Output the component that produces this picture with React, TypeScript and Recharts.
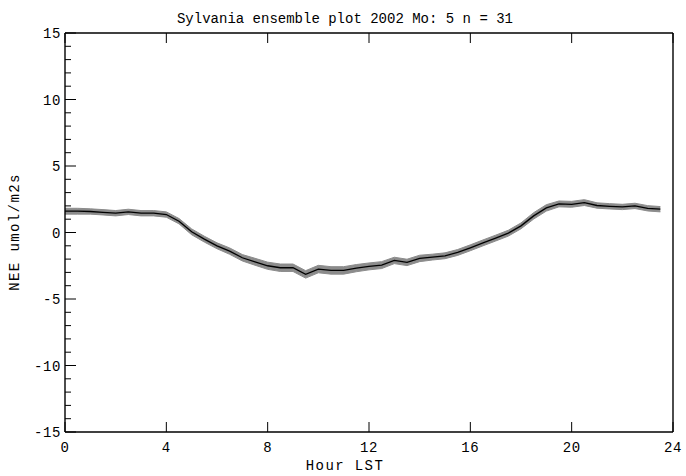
import React from "react";
import {
  ComposedChart,
  Area,
  Line,
  XAxis,
  YAxis,
} from "recharts";

// half-hourly ensemble NEE, May 2002
const hours = [
  0, 0.5, 1, 1.5, 2, 2.5, 3, 3.5, 4, 4.5, 5, 5.5, 6, 6.5, 7, 7.5, 8, 8.5, 9,
  9.5, 10, 10.5, 11, 11.5, 12, 12.5, 13, 13.5, 14, 14.5, 15, 15.5, 16, 16.5,
  17, 17.5, 18, 18.5, 19, 19.5, 20, 20.5, 21, 21.5, 22, 22.5, 23, 23.5,
];
const nee = [
  1.6, 1.6, 1.58, 1.52, 1.45, 1.55, 1.45, 1.45, 1.35, 0.85, 0.05, -0.5, -1.0,
  -1.4, -1.9, -2.2, -2.5, -2.65, -2.65, -3.15, -2.75, -2.85, -2.85, -2.68,
  -2.55, -2.45, -2.1, -2.25, -1.95, -1.85, -1.75, -1.5, -1.15, -0.78, -0.42,
  -0.05, 0.5, 1.25, 1.85, 2.15, 2.12, 2.25, 2.03, 1.97, 1.92, 2.0, 1.82, 1.75,
];
const err = [
  0.22, 0.22, 0.2, 0.2, 0.2, 0.2, 0.2, 0.2, 0.2, 0.2, 0.22, 0.22, 0.22,
  0.24, 0.24, 0.26, 0.27, 0.28, 0.28, 0.28, 0.28, 0.28, 0.28, 0.27, 0.26,
  0.26, 0.24, 0.24, 0.24, 0.22, 0.22, 0.22, 0.22, 0.22, 0.22, 0.22, 0.22,
  0.24, 0.24, 0.22, 0.22, 0.22, 0.2, 0.2, 0.2, 0.2, 0.2, 0.2,
];
const xTicks = [0, 4, 8, 12, 16, 20, 24];
const yTicks = [
  -15, -14, -13, -12, -11, -10, -9, -8, -7, -6, -5, -4, -3, -2, -1, 0, 1, 2, 3,
  4, 5, 6, 7, 8, 9, 10, 11, 12, 13, 14, 15,
];

const data = hours.map((h, i) => ({
  hour: h,
  nee: nee[i],
  band: [nee[i] - err[i], nee[i] + err[i]],
}));

const font = "'Liberation Mono', 'DejaVu Sans Mono', monospace";

const LeftTick = (p: any) => {
  const v = p.payload.value;
  const major = v % 5 === 0;
  return (
    <g>
      <line x1={p.x} x2={p.x + (major ? 11 : 6)} y1={p.y} y2={p.y} stroke="#000" />
      {major && (
        <text x={p.x - 4} y={p.y} dy={5} textAnchor="end" fontFamily={font} fontSize={14} letterSpacing={0.6} fill="#000">
          {v}
        </text>
      )}
    </g>
  );
};

const RightTick = (p: any) => {
  const major = p.payload.value % 5 === 0;
  return <line x1={p.x} x2={p.x - (major ? 11 : 6)} y1={p.y} y2={p.y} stroke="#000" />;
};

const BottomTick = (p: any) => (
  <g>
    <line x1={p.x} x2={p.x} y1={p.y} y2={p.y - 10} stroke="#000" />
    <text x={p.x} y={p.y + 20} textAnchor="middle" fontFamily={font} fontSize={14} letterSpacing={0.6} fill="#000">
      {p.payload.value}
    </text>
  </g>
);

const TopTick = (p: any) => (
  <line x1={p.x} x2={p.x} y1={p.y} y2={p.y + 10} stroke="#000" />
);

export default function App() {
  return (
    <div style={{ position: "fixed", left: 0, top: 0, width: 686, height: 476, background: "#fff" }}>
      <div
        style={{
          position: "absolute", left: 0, width: 686, top: 10, textAlign: "center",
          fontFamily: font, fontSize: 14, lineHeight: "18px", paddingLeft: 2,
        }}
      >
        Sylvania ensemble plot 2002 Mo: 5 n = 31
      </div>
      <div
        style={{
          position: "absolute", left: 0, width: 686, top: 457, textAlign: "center",
          fontFamily: font, fontSize: 14, letterSpacing: 1.4, lineHeight: "18px", paddingLeft: 2,
        }}
      >
        Hour LST
      </div>
      <div
        style={{
          position: "absolute", left: 15 - 80, top: 232 - 9, width: 160, textAlign: "center",
          transform: "rotate(-90deg)", fontFamily: font, fontSize: 14, letterSpacing: 1.4,
          lineHeight: "18px",
        }}
      >
        NEE umol/m2s
      </div>
      <ComposedChart
        width={686}
        height={476}
        data={data}
        margin={{ top: 23, right: 3, bottom: 14, left: 15 }}
      >
        <XAxis
          xAxisId="b"
          dataKey="hour"
          type="number"
          domain={[0, 24]}
          ticks={xTicks}
          interval={0}
          height={30}
          tickSize={0}
          tickMargin={0}
          tickLine={false}
          axisLine={{ stroke: "#000", strokeWidth: 1.4 }}
          tick={<BottomTick />}
        />
        <XAxis
          xAxisId="t"
          orientation="top"
          dataKey="hour"
          type="number"
          domain={[0, 24]}
          ticks={xTicks}
          interval={0}
          height={10}
          tickSize={0}
          tickMargin={0}
          tickLine={false}
          axisLine={{ stroke: "#000", strokeWidth: 1.4 }}
          tick={<TopTick />}
        />
        <YAxis
          yAxisId="l"
          type="number"
          domain={[-15, 15]}
          ticks={yTicks}
          interval={0}
          width={50}
          tickSize={0}
          tickMargin={0}
          tickLine={false}
          axisLine={{ stroke: "#000", strokeWidth: 1.4 }}
          tick={<LeftTick />}
        />
        <YAxis
          yAxisId="r"
          orientation="right"
          type="number"
          domain={[-15, 15]}
          ticks={yTicks}
          interval={0}
          width={10}
          tickSize={0}
          tickMargin={0}
          tickLine={false}
          axisLine={{ stroke: "#000", strokeWidth: 1.4 }}
          tick={<RightTick />}
        />
        <Area
          xAxisId="b"
          yAxisId="l"
          dataKey="band"
          type="linear"
          stroke="#8c8c8c"
          strokeWidth={1}
          fill="#8c8c8c"
          fillOpacity={1}
          isAnimationActive={false}
        />
        <Line
          xAxisId="b"
          yAxisId="l"
          dataKey="nee"
          type="linear"
          stroke="#000"
          strokeWidth={1.3}
          dot={false}
          isAnimationActive={false}
        />
      </ComposedChart>
    </div>
  );
}
